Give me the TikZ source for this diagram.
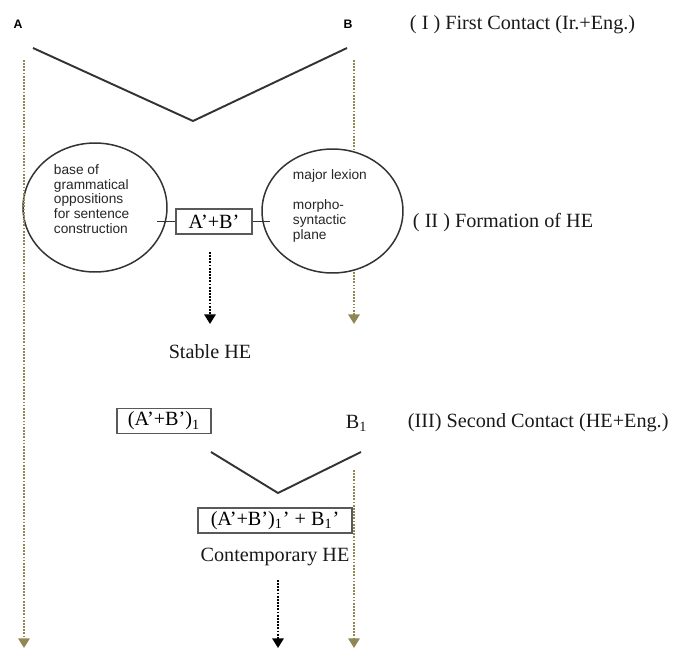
\documentclass[tikz,border=0pt]{standalone}
\usepackage{fontspec}
\setmainfont{Liberation Serif}
\setsansfont{Liberation Sans}
\usetikzlibrary{arrows.meta,shapes.geometric}
\definecolor{olivedot}{RGB}{145,135,85}
\begin{document}
\begin{tikzpicture}[x=0.02cm,y=-0.02cm,line width=1.1pt,
  serif/.style={font=\fontsize{11.5}{13}\selectfont,inner sep=0pt,text=black!90},
  small/.style={font=\sffamily\fontsize{7.8}{8.4}\selectfont,anchor=base west,inner sep=0pt,text=black!85},
  lab/.style={font=\sffamily\bfseries\fontsize{7}{8}\selectfont,inner sep=0pt},
  frm/.style={draw=black!65,line width=0.85pt,inner sep=0pt,minimum height=0.5cm,font=\fontsize{11.5}{13}\selectfont},
  ell/.style={draw=black!80,line width=0.85pt,fill=white,ellipse,inner sep=0pt},
  track/.style={olivedot,line width=1.1pt,dash pattern=on 1pt off 0.8pt,-{Triangle[width=6.5pt,length=5.5pt]}},
  flow/.style={black,line width=1.1pt,dash pattern=on 1pt off 0.8pt,-{Triangle[width=6.5pt,length=5.5pt]}}]
\useasboundingbox (0,0) rectangle (682,649);
% first contact
\node[lab] (A) at (18,24) {A};
\node[lab] (B) at (348,24) {B};
\coordinate (v1) at (33,48); \coordinate (v2) at (193,121); \coordinate (v3) at (347,48);
\draw[black!80] (v1) -- (v2) -- (v3);
\node[serif,anchor=west] (t1) at (409,25) {( I ) First Contact (Ir.+Eng.)};
% tracks of A and B
\coordinate (a0) at (24,60); \coordinate (a1) at (24,648);
\coordinate (b0) at (354,60); \coordinate (b1) at (354,324);
\coordinate (b2) at (354,470); \coordinate (b3) at (354,648);
\draw[track] (b0) -- (b1);
% formation
\node[ell,minimum width=2.88cm,minimum height=2.58cm] (le) at (95,207.5) {};
\node[ell,minimum width=2.82cm,minimum height=2.48cm] (re) at (332.5,211) {};
\draw[track] (a0) -- (a1);
\draw[track] (b2) -- (b3);
\foreach \t [count=\i] in {base of,grammatical,oppositions,for sentence,construction}
  \node[small] (g\i) at (53,160+14.6*\i) {\t};
\foreach \t/\k in {major lexion/0,morpho-/2,syntactic/3,plane/4}
  \node[small] (m\k) at (292,179.5+15*\k) {\t};
\node[frm,minimum width=1.52cm] (ab) at (214,221.5) {A'+B'};
\coordinate (lt) at (157,221.5); \coordinate (rt) at (270,221.5);
\draw[black!80,line width=0.85pt] (lt) -- (ab.west) (ab.east) -- (rt);
\node[serif,anchor=west] (t2) at (412,223) {( II ) Formation of HE};
\coordinate (s0) at (210,252); \coordinate (s1) at (210,324);
\draw[flow] (s0) -- (s1);
\node[serif] (st) at (210,352) {Stable HE};
% second contact
\node[frm,minimum width=1.88cm] (ab1) at (164,421) {(A'+B')\textsubscript{1}};
\node[serif,anchor=west] (b1n) at (345,423) {B\textsubscript{1}};
\node[serif,anchor=west] (t3) at (407,423) {(III) Second Contact (HE+Eng.)};
\coordinate (w1) at (211,452); \coordinate (w2) at (278,493); \coordinate (w3) at (361,452);
\draw[black!80] (w1) -- (w2) -- (w3);
\node[frm,minimum width=3.08cm] (ab2) at (275,520.5) {(A'+B')\textsubscript{1}' + B\textsubscript{1}'};
\node[serif] (ct) at (275,557) {Contemporary HE};
\coordinate (c0) at (278,580); \coordinate (c1) at (278,648);
\draw[flow] (c0) -- (c1);
\end{tikzpicture}
\end{document}
